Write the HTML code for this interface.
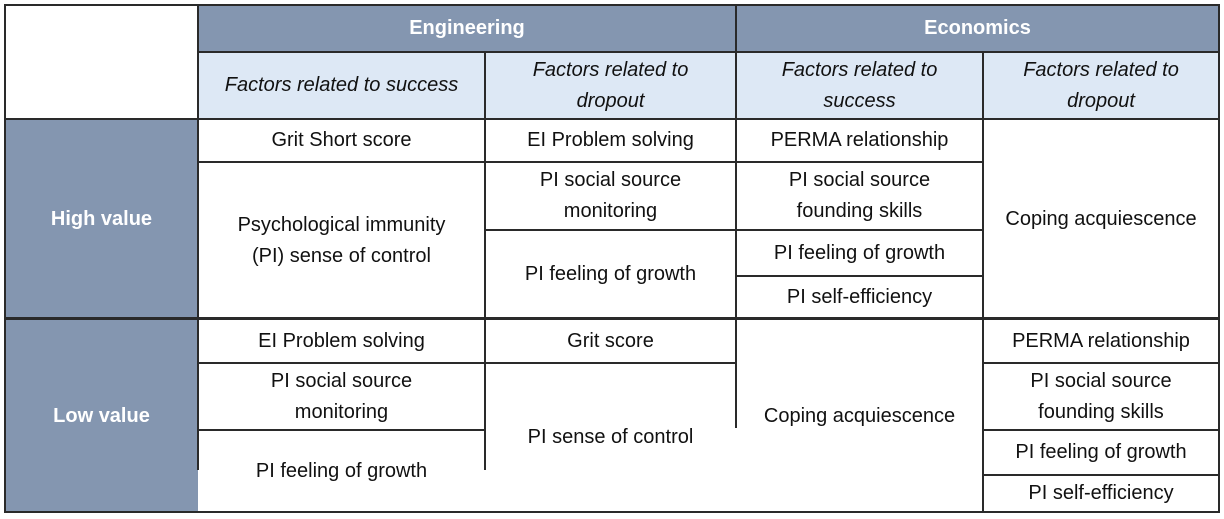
<!DOCTYPE html>
<html><head><meta charset="utf-8"><style>
body{margin:0;width:1224px;height:519px;background:#fff;position:relative;overflow:hidden;font-family:"Liberation Sans",sans-serif;}
.c{position:absolute;display:flex;align-items:center;justify-content:center;text-align:center;font-size:20px;color:#111;line-height:31px;box-sizing:border-box;}
.h{background:#8496b0;color:#fff;font-weight:bold;}
.s{background:#dde8f5;font-style:italic;}
.l{position:absolute;background:#2a2a2a;}
</style></head><body>
<div>
<div class="c h" style="left:198px;top:5px;width:538px;height:47px;">Engineering</div>
<div class="c h" style="left:736px;top:5px;width:483px;height:47px;">Economics</div>
<div class="c s" style="left:198px;top:52px;width:287px;height:67px;">Factors related to success</div>
<div class="c s" style="left:485px;top:52px;width:251px;height:67px;">Factors related to<br>dropout</div>
<div class="c s" style="left:736px;top:52px;width:247px;height:67px;">Factors related to<br>success</div>
<div class="c s" style="left:983px;top:52px;width:236px;height:67px;">Factors related to<br>dropout</div>
<div class="c h" style="left:5px;top:119px;width:193px;height:200px;">High value</div>
<div class="c h" style="left:5px;top:320px;width:193px;height:192px;">Low value</div>

<div class="c" style="left:198px;top:119px;width:287px;height:43px;">Grit Short score</div>
<div class="c" style="left:198px;top:162px;width:287px;height:157px;">Psychological immunity<br>(PI) sense of control</div>
<div class="c" style="left:485px;top:119px;width:251px;height:43px;">EI Problem solving</div>
<div class="c" style="left:485px;top:162px;width:251px;height:68px;">PI social source<br>monitoring</div>
<div class="c" style="left:485px;top:230px;width:251px;height:89px;">PI feeling of growth</div>
<div class="c" style="left:736px;top:119px;width:247px;height:43px;">PERMA relationship</div>
<div class="c" style="left:736px;top:162px;width:247px;height:68px;">PI social source<br>founding skills</div>
<div class="c" style="left:736px;top:230px;width:247px;height:46px;">PI feeling of growth</div>
<div class="c" style="left:736px;top:276px;width:247px;height:43px;">PI self-efficiency</div>
<div class="c" style="left:983px;top:119px;width:236px;height:200px;">Coping acquiescence</div>

<div class="c" style="left:198px;top:320px;width:287px;height:43px;">EI Problem solving</div>
<div class="c" style="left:198px;top:363px;width:287px;height:67px;">PI social source<br>monitoring</div>
<div class="c" style="left:198px;top:430px;width:287px;height:82px;">PI feeling of growth</div>
<div class="c" style="left:485px;top:320px;width:251px;height:43px;">Grit score</div>
<div class="c" style="left:485px;top:363px;width:251px;height:149px;">PI sense of control</div>
<div class="c" style="left:736px;top:320px;width:247px;height:192px;">Coping acquiescence</div>
<div class="c" style="left:983px;top:320px;width:236px;height:43px;">PERMA relationship</div>
<div class="c" style="left:983px;top:363px;width:236px;height:67px;">PI social source<br>founding skills</div>
<div class="c" style="left:983px;top:430px;width:236px;height:45px;">PI feeling of growth</div>
<div class="c" style="left:983px;top:475px;width:236px;height:37px;">PI self-efficiency</div>

<!-- outer border -->
<div class="l" style="left:4px;top:4px;width:1216px;height:2px"></div>
<div class="l" style="left:4px;top:511px;width:1216px;height:2px"></div>
<div class="l" style="left:4px;top:4px;width:2px;height:509px"></div>
<div class="l" style="left:1218px;top:4px;width:2px;height:509px"></div>
<!-- horizontals -->
<div class="l" style="left:198px;top:51px;width:1021px;height:2px"></div>
<div class="l" style="left:4px;top:118px;width:1216px;height:2px"></div>
<div class="l" style="left:4px;top:317px;width:1216px;height:3px"></div>
<div class="l" style="left:198px;top:161px;width:785px;height:2px"></div>
<div class="l" style="left:485px;top:229px;width:498px;height:2px"></div>
<div class="l" style="left:736px;top:275px;width:247px;height:2px"></div>
<div class="l" style="left:198px;top:362px;width:538px;height:2px"></div>
<div class="l" style="left:198px;top:429px;width:287px;height:2px"></div>
<div class="l" style="left:983px;top:362px;width:236px;height:2px"></div>
<div class="l" style="left:983px;top:429px;width:236px;height:2px"></div>
<div class="l" style="left:983px;top:474px;width:236px;height:2px"></div>
<!-- verticals -->
<div class="l" style="left:197px;top:4px;width:2px;height:315px"></div>
<div class="l" style="left:197px;top:320px;width:2px;height:150px"></div>
<div class="l" style="left:735px;top:4px;width:2px;height:315px"></div>
<div class="l" style="left:735px;top:320px;width:2px;height:108px"></div>
<div class="l" style="left:484px;top:52px;width:2px;height:267px"></div>
<div class="l" style="left:484px;top:320px;width:2px;height:150px"></div>
<div class="l" style="left:982px;top:52px;width:2px;height:460px"></div>
</div>
</body></html>
